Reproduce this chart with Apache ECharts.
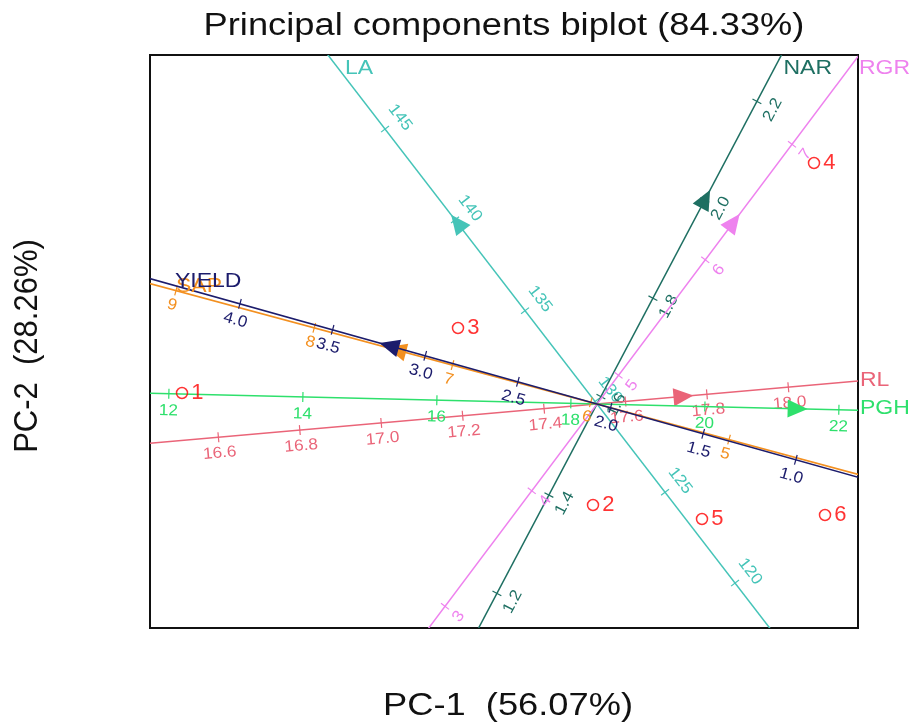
<!DOCTYPE html>
<html><head><meta charset="utf-8">
<script src="https://cdn.jsdelivr.net/npm/echarts@6/dist/echarts.min.js"></script>
<style>html,body{margin:0;padding:0;background:#fff}#c{width:909px;height:725px}</style>
</head><body><div id="c"></div>
<script>
// Observations (PC scores)
const obsNames = ['1','2','3','4','5','6'];
const obsPC1 = [-4.15, -0.04, -1.39, 2.17, 1.05, 2.28];
const obsPC2 = [0.11, -1.01, 0.76, 2.41, -1.15, -1.11];

// Variables: value at origin, and displacement (PC1, PC2) per one unit of the variable
const varNames  = ['LA', 'NAR', 'RGR', 'RL', 'PGH', 'SAP', 'YIELD'];
const varMeans  = [129.86, 1.585, 4.752, 17.53, 18.39, 5.955, 2.073];
const varDirPC1 = [-0.14, 2.60, 0.8675, 4.071, 0.67, -1.3825, -1.853];
const varDirPC2 = [0.1816, 4.92, 1.155, 0.357, -0.016, 0.3725, 0.52];
const arrowValues = [139.8, 2.0, 6.32, 17.74, 21.37, 7.40, 3.19];

// Tick labels of each calibrated axis
const tickLA    = ['120','125','130','135','140','145'];
const tickNAR   = ['1.2','1.4','1.6','1.8','2.0','2.2'];
const tickRGR   = ['3','4','5','6','7'];
const tickRL    = ['16.6','16.8','17.0','17.2','17.4','17.6','17.8','18.0'];
const tickPGH   = ['12','14','16','18','20','22'];
const tickSAP   = ['5','6','7','8','9'];
const tickYIELD = ['1.0','1.5','2.0','2.5','3.0','3.5','4.0'];
const tickLabels = [tickLA, tickNAR, tickRGR, tickRL, tickPGH, tickSAP, tickYIELD];

const FONT = '"Liberation Sans", Arial, sans-serif';
const varStyle = [
  {color:'#45c4b8', side: 1, off:19, nameDx:17, nameDy:13, lw:1.5}, // LA
  {color:'#1e6f62', side: 1, off:18, nameDx:2,  nameDy:13, lw:1.5}, // NAR
  {color:'#ee82ee', side: 1, off:17, nameDx:1,  nameDy:12, lw:1.5}, // RGR
  {color:'#ea6478', side: 1, off:16, nameDx:2,  nameDy:-1, lw:1.5}, // RL
  {color:'#2ee06c', side: 1, off:17, nameDx:2,  nameDy:-2, lw:1.5}, // PGH
  {color:'#f39020', side:-1, off:15, nameDx:26, nameDy:3,  lw:1.6}, // SAP
  {color:'#1c1c6c', side:-1, off:17, nameDx:25, nameDy:3,  lw:1.6}  // YIELD
];

function geom(api, i) {
  const O = api.coord([0, 0]);
  const P = api.coord([varDirPC1[i], varDirPC2[i]]);
  const U = [P[0] - O[0], P[1] - O[1]];
  const len = Math.hypot(U[0], U[1]);
  const u = [U[0] / len, U[1] / len];
  const n = [-u[1], u[0]];
  return {O, U, u, n, len};
}
function at(g, i, v) {
  const t = v - varMeans[i];
  return [g.O[0] + g.U[0] * t, g.O[1] + g.U[1] * t];
}
function textRot(u) {
  let r = -Math.atan2(u[1], u[0]);
  if (r > Math.PI / 2) r -= Math.PI;
  if (r < -Math.PI / 2) r += Math.PI;
  return r;
}

const series = [];
varNames.forEach((nm, i) => {
  series.push({
    type: 'custom', name: nm, coordinateSystem: 'cartesian2d', clip: true, silent: true,
    data: tickLabels[i].map(s => [parseFloat(s)]),
    renderItem: (params, api) => {
      const g = geom(api, i), st = varStyle[i];
      const v = api.value(0);
      const c = at(g, i, v);
      const children = [];
      if (params.dataIndex === 0) {
        const T = 3000 / g.len;
        children.push({type: 'line', shape: {x1: g.O[0] - g.U[0] * T, y1: g.O[1] - g.U[1] * T, x2: g.O[0] + g.U[0] * T, y2: g.O[1] + g.U[1] * T},
          style: {stroke: st.color, lineWidth: st.lw}});
        const a = at(g, i, arrowValues[i]);
        const u = g.u, n = g.n;
        children.push({type: 'polygon', shape: {points: [
          [a[0] + u[0] * 11, a[1] + u[1] * 11],
          [a[0] - u[0] * 9 + n[0] * 9, a[1] - u[1] * 9 + n[1] * 9],
          [a[0] - u[0] * 9 - n[0] * 9, a[1] - u[1] * 9 - n[1] * 9]
        ]}, style: {fill: st.color}});
      }
      children.push({type: 'line', shape: {x1: c[0] - g.n[0] * 5, y1: c[1] - g.n[1] * 5, x2: c[0] + g.n[0] * 5, y2: c[1] + g.n[1] * 5},
        style: {stroke: st.color, lineWidth: 1.2}});
      children.push({type: 'text', x: c[0] + g.n[0] * st.side * st.off, y: c[1] + g.n[1] * st.side * st.off,
        rotation: textRot(g.u), scaleX: 1.08,
        style: {text: tickLabels[i][params.dataIndex], fill: st.color, fontSize: 16, fontFamily: FONT, align: 'center', verticalAlign: 'middle'}});
      return {type: 'group', children};
    }
  });
});

// variable names at the end of each axis
series.push({
  type: 'custom', coordinateSystem: 'cartesian2d', clip: false, silent: true,
  data: varNames.map((n, i) => [i]),
  renderItem: (params, api) => {
    const i = params.dataIndex, g = geom(api, i), st = varStyle[i];
    const cs = params.coordSys;
    let t = Infinity;
    if (g.U[0] > 0) t = Math.min(t, (cs.x + cs.width - g.O[0]) / g.U[0]);
    if (g.U[0] < 0) t = Math.min(t, (cs.x - g.O[0]) / g.U[0]);
    if (g.U[1] > 0) t = Math.min(t, (cs.y + cs.height - g.O[1]) / g.U[1]);
    if (g.U[1] < 0) t = Math.min(t, (cs.y - g.O[1]) / g.U[1]);
    const ex = g.O[0] + g.U[0] * t, ey = g.O[1] + g.U[1] * t;
    return {type: 'text', x: ex + st.nameDx, y: ey + st.nameDy, scaleX: 1.15,
      style: {text: varNames[i], fill: st.color, fontSize: 20, fontFamily: FONT, align: 'left', verticalAlign: 'middle'}};
  }
});

series.push({
  type: 'scatter', name: 'obs', silent: true,
  data: obsNames.map((nm, i) => ({name: nm, value: [obsPC1[i], obsPC2[i]]})),
  symbol: 'circle', symbolSize: 11,
  itemStyle: {color: 'rgba(0,0,0,0)', borderColor: '#ff0000', borderWidth: 1.5},
  label: {show: true, position: 'right', distance: 3, formatter: '{b}', color: '#ff0000', fontSize: 22, fontFamily: FONT}
});

const chart = echarts.init(document.getElementById('c'));
chart.setOption({
  animation: false,
  backgroundColor: '#fff',
  grid: {left: 150, top: 55, width: 708, height: 573, show: true, borderColor: '#111', borderWidth: 2, backgroundColor: 'rgba(0,0,0,0)'},
  xAxis: {type: 'value', min: -4.47, max: 2.61, show: false},
  yAxis: {type: 'value', min: -2.24, max: 3.49, show: false},
  graphic: [
    {type: 'text', x: 504, y: 26, scaleX: 1.17, style: {text: 'Principal components biplot (84.33%)', fill: '#111', fontSize: 31, fontFamily: FONT, align: 'center', verticalAlign: 'middle'}},
    {type: 'text', x: 508, y: 706, scaleX: 1.17, style: {text: 'PC-1  (56.07%)', fill: '#111', fontSize: 31, fontFamily: FONT, align: 'center', verticalAlign: 'middle'}},
    {type: 'text', x: 28, y: 346, rotation: Math.PI / 2, scaleY: 1.1, style: {text: 'PC-2  (28.26%)', fill: '#111', fontSize: 31, fontFamily: FONT, align: 'center', verticalAlign: 'middle'}}
  ],
  series
});
</script>
</body></html>
